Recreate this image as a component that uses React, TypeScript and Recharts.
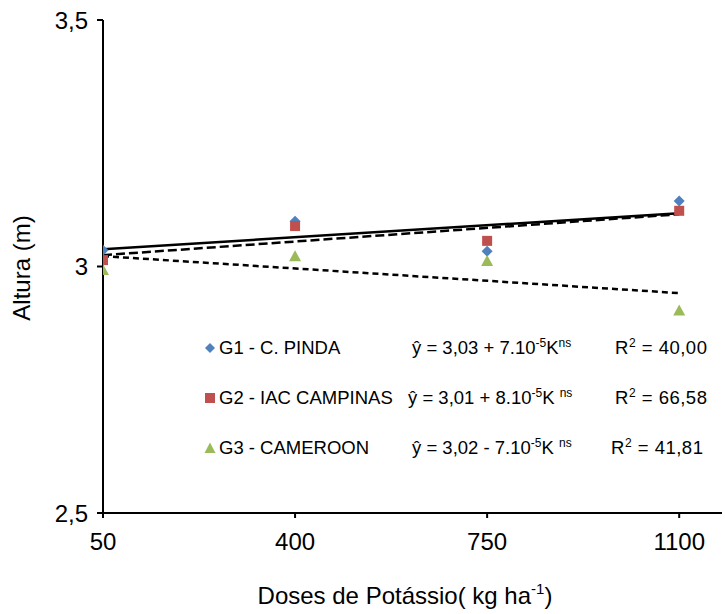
import React from "react";
import {
  ComposedChart,
  Scatter,
  Line,
  XAxis,
  YAxis,
  Legend,
} from "recharts";

// ---- data ----
const doses = [50, 400, 750, 1100];
const xTicks = [50, 400, 750, 1100];
const yTicks = [2.5, 3, 3.5];

const seriesNames = ["G1 - C. PINDA", "G2 - IAC CAMPINAS", "G3 - CAMEROON"];
const g1Values = [3.033, 3.092, 3.031, 3.133];
const g2Values = [3.013, 3.082, 3.052, 3.113];
const g3Values = [2.993, 3.021, 3.011, 2.911];

const trendX = [50, 1100];
const g1Trend = [3.035, 3.108];
const g2Trend = [3.023, 3.106];
const g3Trend = [3.021, 2.946];

const eqIntercepts = ["3,03", "3,01", "3,02"];
const eqSigns = ["+", "+", "-"];
const eqCoefs = ["7", "8", "7"];
const eqR2 = ["40,00", "66,58", "41,81"];

const colors = ["#4F81BD", "#C0504D", "#9BBB59"];

const toPts = (xs: number[], ys: number[]) => xs.map((x, i) => ({ x, y: ys[i] }));
const g1Data = toPts(doses, g1Values);
const g2Data = toPts(doses, g2Values);
const g3Data = toPts(doses, g3Values);
const g1TrendData = toPts(trendX, g1Trend);
const g2TrendData = toPts(trendX, g2Trend);
const g3TrendData = toPts(trendX, g3Trend);

const FONT = "Arial, 'Liberation Sans', Helvetica, sans-serif";

const Diamond = (props: any) => {
  const { cx, cy } = props;
  if (cx == null || cy == null) return <g />;
  const r = 5.5;
  return (
    <polygon
      points={`${cx},${cy - r} ${cx + r},${cy} ${cx},${cy + r} ${cx - r},${cy}`}
      fill={colors[0]}
    />
  );
};
const Square = (props: any) => {
  const { cx, cy } = props;
  if (cx == null || cy == null) return <g />;
  return <rect x={cx - 5} y={cy - 5} width={10} height={10} fill={colors[1]} />;
};
const Triangle = (props: any) => {
  const { cx, cy } = props;
  if (cx == null || cy == null) return <g />;
  return (
    <polygon
      points={`${cx},${cy - 6} ${cx + 6},${cy + 5} ${cx - 6},${cy + 5}`}
      fill={colors[2]}
    />
  );
};

const LegendMarker = ({ i }: { i: number }) => (
  <svg width={14} height={14} style={{ position: "absolute", left: 3, top: 3 }}>
    {i === 0 && <polygon points="7,2 12,7 7,12 2,7" fill={colors[0]} />}
    {i === 1 && <rect x={2} y={2} width={10} height={10} fill={colors[1]} />}
    {i === 2 && <polygon points="7,1.5 12.5,12 1.5,12" fill={colors[2]} />}
  </svg>
);

const supStyle: React.CSSProperties = { fontSize: 12, verticalAlign: 7, lineHeight: 0 };

const renderLegend = () => (
  <div style={{ position: "relative", width: 525, height: 150, fontFamily: FONT, fontSize: 18.5, color: "#000" }}>
    {seriesNames.map((name, i) => (
      <div key={name} style={{ position: "absolute", left: 0, top: i * 50, height: 20, width: 525, whiteSpace: "nowrap", lineHeight: "20px" }}>
        <LegendMarker i={i} />
        <span style={{ position: "absolute", left: 19, top: 0 }}>{name}</span>
        <span style={{ position: "absolute", left: i === 1 ? 208 : 212, top: 0 }}>
          ŷ = {eqIntercepts[i]} {eqSigns[i]} {eqCoefs[i]}.10
          <sup style={supStyle}>-5</sup>K
          {i === 0 ? "" : " "}
          <sup style={supStyle}>ns</sup>
        </span>
        <span style={{ position: "absolute", left: i === 2 ? 411 : 415, top: 0, letterSpacing: 0.5 }}>
          R<sup style={supStyle}>2</sup> = {eqR2[i]}
        </span>
      </div>
    ))}
  </div>
);

const XTitle = () => (
  <text x={405} y={604} textAnchor="middle" fontFamily={FONT} fontSize={24} fill="#000">
    Doses de Potássio( kg ha
    <tspan fontSize={15} dy={-10}>-1</tspan>
    <tspan dy={10}>)</tspan>
  </text>
);

const YTitle = () => (
  <text
    x={0}
    y={0}
    transform="translate(30, 268) rotate(-90)"
    textAnchor="middle"
    fontFamily={FONT}
    fontSize={24}
    fill="#000"
  >
    Altura (m)
  </text>
);

export default function App() {
  return (
    <div style={{ position: "absolute", left: 0, top: 0, width: 725, height: 614, background: "#fff" }}>
      <ComposedChart
        width={725}
        height={614}
        margin={{ top: 20, right: 3, left: 0, bottom: 0 }}
      >
        <XAxis
          dataKey="x"
          type="number"
          domain={[50, 1178]}
          ticks={xTicks}
          allowDataOverflow
          height={101}
          tickSize={5}
          tickMargin={15}
          tickLine={{ stroke: "#000", strokeWidth: 2 }}
          axisLine={{ stroke: "#000", strokeWidth: 2 }}
          tick={{ fill: "#000", fontSize: 24, fontFamily: FONT }}
          label={<XTitle />}
        />
        <YAxis
          dataKey="y"
          type="number"
          domain={[2.5, 3.5]}
          ticks={yTicks}
          allowDataOverflow
          width={103}
          tickSize={6}
          tickMargin={9}
          tickLine={{ stroke: "#000", strokeWidth: 2 }}
          axisLine={{ stroke: "#000", strokeWidth: 2 }}
          tick={{ fill: "#000", fontSize: 24, fontFamily: FONT }}
          tickFormatter={(v: number) => String(v).replace(".", ",")}
          label={<YTitle />}
        />
        <Scatter name={seriesNames[0]} data={g1Data} shape={<Diamond />} isAnimationActive={false} />
        <Scatter name={seriesNames[1]} data={g2Data} shape={<Square />} isAnimationActive={false} />
        <Scatter name={seriesNames[2]} data={g3Data} shape={<Triangle />} isAnimationActive={false} />
        <Line data={g1TrendData} dataKey="y" stroke="#000" strokeWidth={2.5} dot={false} activeDot={false} isAnimationActive={false} legendType="none" />
        <Line data={g2TrendData} dataKey="y" stroke="#000" strokeWidth={2.5} strokeDasharray="9 4" dot={false} activeDot={false} isAnimationActive={false} legendType="none" />
        <Line data={g3TrendData} dataKey="y" stroke="#000" strokeWidth={2.5} strokeDasharray="6 4" dot={false} activeDot={false} isAnimationActive={false} legendType="none" />
        <Legend
          layout="horizontal"
          verticalAlign="middle"
          align="center"
          content={renderLegend}
          wrapperStyle={{ left: 200, top: 338, width: 525, height: 150 }}
        />
      </ComposedChart>
    </div>
  );
}
